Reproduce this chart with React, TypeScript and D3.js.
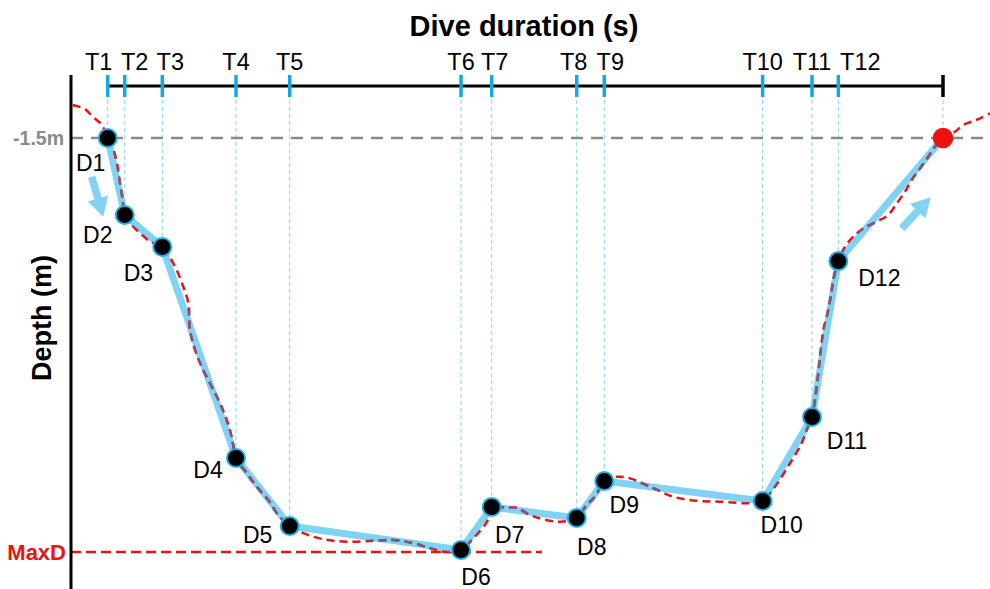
import React from "react";
import * as d3 from "d3";

// ---- data ----
const T_LABELS = ["T1", "T2", "T3", "T4", "T5", "T6", "T7", "T8", "T9", "T10", "T11", "T12"];
const T_TIMES = [0, 2.04, 6.54, 15.36, 21.79, 42.3, 45.97, 56.15, 59.45, 78.41, 84.32, 87.47];
const END_TIME = 100;
const D_LABELS = ["D1", "D2", "D3", "D4", "D5", "D6", "D7", "D8", "D9", "D10", "D11", "D12"];
const D_DEPTHS = [1.5, 4.94, 6.37, 15.8, 18.84, 19.91, 17.99, 18.48, 16.83, 17.72, 13.97, 7.0];
const END_DEPTH = 1.5;
const REF_DEPTH = 1.5;
const REF_LABEL = "-1.5m";
const MAX_DEPTH = 20;
const MAX_LABEL = "MaxD";
const MAXD_LINE_END_T = 52;
const X_TITLE = "Dive duration (s)";
const Y_TITLE = "Depth (m)";

// raw (recorded) dive profile
const PROFILE_T = [
  -4.19, -2.72, -1.76, -0.92, -0.44, 0.04, 0.63, 1.11, 1.47, 1.8, 2.04, 2.87, 3.87, 5.07, 6.54,
  8.06, 9.05, 9.65, 9.85, 10.45, 11.25, 12.45, 13.44, 14.25, 14.85, 15.36, 16.64, 17.84, 19.23,
  20.42, 21.79, 23.42, 25.81, 28.61, 31.8, 34.19, 36.59, 38.59, 40.18, 42.3, 43.77, 45.17, 45.77,
  45.97, 47.77, 48.96, 50.56, 52.15, 54.15, 56.15, 57.34, 58.34, 59.45, 60.94, 62.53, 65.32,
  67.71, 70.51, 73.3, 76.89, 78.41, 79.89, 81.68, 83.08, 83.68, 84.32, 84.67, 85.07, 85.36,
  85.75, 86.08, 86.56, 86.87, 87.47, 88.27, 89.26, 90.46, 92.06, 93.45, 94.46, 95.45, 96.25,
  97.25, 98.24, 99.04, 100, 101.43, 102.43, 103.44, 104.44, 105.64,
];
const PROFILE_D = [
  0.03, 0.21, 0.56, 0.83, 1.1, 1.5, 1.95, 2.62, 3.51, 4.27, 4.94, 5.39, 5.75, 6.13, 6.37, 7.25,
  8.15, 8.87, 10.08, 10.97, 11.72, 12.61, 13.34, 14.1, 14.85, 15.8, 16.47, 17.08, 17.68, 18.35,
  18.84, 19.16, 19.43, 19.54, 19.5, 19.46, 19.61, 19.83, 19.99, 19.91, 19.39, 18.79, 18.35, 17.99,
  18.02, 18.02, 18.35, 18.54, 18.65, 18.48, 17.9, 17.53, 16.83, 16.64, 16.71, 17.15, 17.53,
  17.71, 17.75, 17.82, 17.72, 17.08, 16.04, 15.14, 14.55, 13.97, 13.21, 12.02, 10.97, 9.93,
  9.49, 8.59, 7.85, 7.0, 6.36, 5.91, 5.54, 5.24, 4.94, 4.42, 3.9, 3.38, 2.86, 2.34, 1.89, 1.5,
  1.22, 0.92, 0.77, 0.62, 0.4,
];

// direction arrows (time, depth): start -> tip
const ARROW_START_T = [-1.92, 95.06];
const ARROW_START_D = [3.23, 5.54];
const ARROW_TIP_T = [-0.53, 98.53];
const ARROW_TIP_D = [5.02, 4.15];

// ---- layout / style ----
const W = 990;
const H = 589;
const AXIS_Y = 86;
const AXIS_X = 71;
const FONT = "'Liberation Sans', Arial, Helvetica, sans-serif";
const T_LABEL_DX = [-9, 10, 8, 0, 0, 0, 3, -3, 6, 0, 0, 22];
const D_LABEL_OFF: [number, number][] = [
  [-17, 25], [-27, 20], [-24, 26], [-28, 12], [-32, 9], [15, 27],
  [18, 28], [15, 29], [20, 24], [19, 24], [35, 24], [41, 17],
];
const BLUE_LINE = "#80d3f4";
const BLUE_TICK = "#12a8e6";
const BLUE_STROKE = "#1cb0ea";
const RED = "#ee1111";
const MAUVE = "#7c5a78";

export default function App() {
  const x = d3.scaleLinear().domain([0, END_TIME]).range([107.7, 943]);
  const y = d3.scaleLinear().domain([0, MAX_DEPTH]).range([104.4, 552]);

  const pts: [number, number][] = D_DEPTHS.map((d, i) => [x(T_TIMES[i]), y(d)]);
  const allPts: [number, number][] = [...pts, [x(END_TIME), y(END_DEPTH)]];
  const blueLine = d3.line()(allPts) || "";

  const profile = d3
    .line<number>()
    .x((_, i) => x(PROFILE_T[i]))
    .y((d) => y(d))
    .curve(d3.curveCatmullRom.alpha(0.5))(PROFILE_D) || "";

  const arrows = ARROW_START_T.map((_, i) => {
    const sx = x(ARROW_START_T[i]);
    const sy = y(ARROW_START_D[i]);
    const tx = x(ARROW_TIP_T[i]);
    const ty = y(ARROW_TIP_D[i]);
    const dx = tx - sx;
    const dy = ty - sy;
    const len = Math.hypot(dx, dy);
    const ux = dx / len;
    const uy = dy / len;
    const px = -uy;
    const py = ux;
    const headL = 19;
    const headW = 10.5;
    const shaftW = 3.8;
    const bx = tx - ux * headL;
    const by = ty - uy * headL;
    const p = [
      [sx + px * shaftW, sy + py * shaftW],
      [bx + px * shaftW, by + py * shaftW],
      [bx + px * headW, by + py * headW],
      [tx, ty],
      [bx - px * headW, by - py * headW],
      [bx - px * shaftW, by - py * shaftW],
      [sx - px * shaftW, sy - py * shaftW],
    ];
    return "M" + p.map((q) => q.join(",")).join("L") + "Z";
  });

  return (
    <svg
      width={W}
      height={H}
      style={{ position: "absolute", left: 0, top: 0, background: "#fff" }}
      fontFamily={FONT}
    >
      <defs>
        <mask id="blueMask" maskUnits="userSpaceOnUse" x={0} y={0} width={W} height={H}>
          <rect x={0} y={0} width={W} height={H} fill="black" />
          <path d={blueLine} fill="none" stroke="white" strokeWidth={7} strokeLinejoin="round" />
        </mask>
      </defs>

      {/* titles */}
      <text x={524} y={36} textAnchor="middle" fontSize={29} fontWeight="bold" fill="#000">
        {X_TITLE}
      </text>
      <text
        transform="translate(42,318) rotate(-90)"
        textAnchor="middle"
        dominantBaseline="central"
        fontSize={27}
        fontWeight="bold"
        fill="#000"
      >
        {Y_TITLE}
      </text>

      {/* drop lines */}
      {allPts.map(([px, py], i) => (
        <line
          key={"drop" + i}
          x1={px}
          x2={px}
          y1={AXIS_Y}
          y2={py}
          stroke="#7fd5f6"
          strokeWidth={1}
          strokeDasharray="4,3"
        />
      ))}

      {/* reference lines */}
      <line
        x1={AXIS_X}
        x2={W}
        y1={y(REF_DEPTH)}
        y2={y(REF_DEPTH)}
        stroke="#8a8a8a"
        strokeWidth={2.5}
        strokeDasharray="12,8"
      />
      <text
        x={64}
        y={y(REF_DEPTH)}
        textAnchor="end"
        dominantBaseline="central"
        fontSize={19.5}
        fontWeight="bold"
        fill="#8a8a8a"
      >
        {REF_LABEL}
      </text>
      <line
        x1={AXIS_X}
        x2={x(MAXD_LINE_END_T)}
        y1={y(MAX_DEPTH)}
        y2={y(MAX_DEPTH)}
        stroke={RED}
        strokeWidth={2.5}
        strokeDasharray="10,5"
      />
      <text
        x={66}
        y={y(MAX_DEPTH)}
        textAnchor="end"
        dominantBaseline="central"
        fontSize={22}
        fontWeight="bold"
        fill={RED}
      >
        {MAX_LABEL}
      </text>

      {/* top axis */}
      <line x1={x(0)} x2={x(END_TIME)} y1={AXIS_Y} y2={AXIS_Y} stroke="#000" strokeWidth={3} />
      {T_TIMES.map((t, i) => (
        <g key={"tick" + i}>
          <line x1={x(t)} x2={x(t)} y1={AXIS_Y - 11} y2={AXIS_Y + 11} stroke={BLUE_TICK} strokeWidth={3.5} />
          <text x={x(t) + T_LABEL_DX[i]} y={70} textAnchor="middle" fontSize={23.5} fill="#000">
            {T_LABELS[i]}
          </text>
        </g>
      ))}
      <line x1={x(END_TIME)} x2={x(END_TIME)} y1={AXIS_Y - 11} y2={AXIS_Y + 11} stroke="#000" strokeWidth={3.5} />

      {/* left axis */}
      <line x1={AXIS_X} x2={AXIS_X} y1={75} y2={H} stroke="#000" strokeWidth={3} />

      {/* simplified profile */}
      <path d={blueLine} fill="none" stroke={BLUE_LINE} strokeWidth={7} strokeLinejoin="round" />

      {/* recorded profile */}
      <path d={profile} fill="none" stroke={RED} strokeWidth={2.5} strokeDasharray="8,5" />
      <path
        d={profile}
        fill="none"
        stroke={MAUVE}
        strokeWidth={2.5}
        strokeDasharray="8,5"
        mask="url(#blueMask)"
      />

      {/* arrows */}
      {arrows.map((d, i) => (
        <path key={"arr" + i} d={d} fill={BLUE_LINE} />
      ))}

      {/* points */}
      {pts.map(([px, py], i) => (
        <circle key={"pt" + i} cx={px} cy={py} r={9} fill="#000" stroke={BLUE_STROKE} strokeWidth={2} />
      ))}
      <circle cx={x(END_TIME)} cy={y(END_DEPTH)} r={10.3} fill={RED} />

      {/* point labels */}
      {pts.map(([px, py], i) => (
        <text
          key={"lbl" + i}
          x={px + D_LABEL_OFF[i][0]}
          y={py + D_LABEL_OFF[i][1]}
          textAnchor="middle"
          dominantBaseline="central"
          fontSize={23}
          fill="#000"
        >
          {D_LABELS[i]}
        </text>
      ))}
    </svg>
  );
}
